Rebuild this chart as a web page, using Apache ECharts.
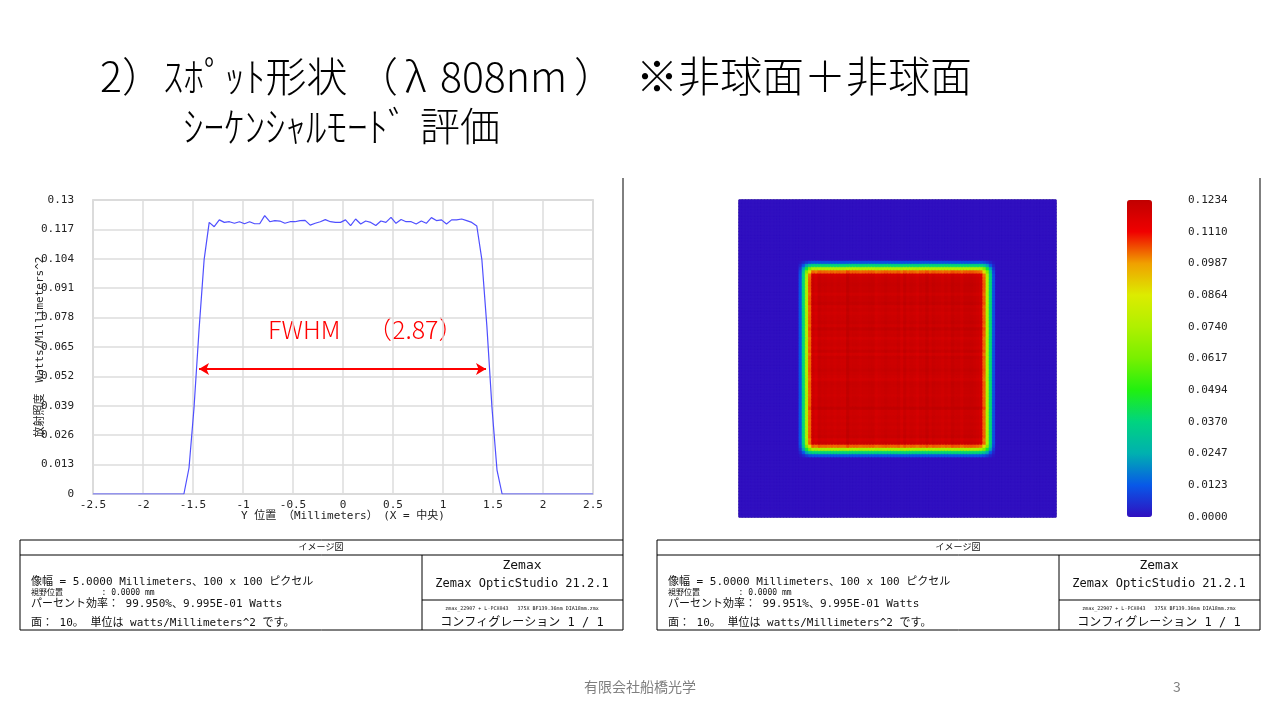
<!DOCTYPE html>
<html><head><meta charset="utf-8">
<script src="https://cdn.jsdelivr.net/npm/echarts@6/dist/echarts.min.js"></script>
<style>html,body{margin:0;padding:0;background:#fff}#c{width:1280px;height:720px}</style>
</head><body><div id="c"></div>
<script>
// ---- data ----
const positionsMm = [
-2.500,-2.449,-2.399,-2.348,-2.298,-2.247,-2.197,-2.146,-2.096,-2.045,
-1.995,-1.944,-1.894,-1.843,-1.793,-1.742,-1.692,-1.641,-1.591,-1.540,
-1.490,-1.439,-1.389,-1.338,-1.288,-1.237,-1.187,-1.136,-1.086,-1.035,
-0.985,-0.934,-0.884,-0.833,-0.783,-0.732,-0.682,-0.631,-0.581,-0.530,
-0.480,-0.429,-0.379,-0.328,-0.278,-0.227,-0.177,-0.126,-0.076,-0.025,
0.025,0.076,0.126,0.177,0.227,0.278,0.328,0.379,0.429,0.480,
0.530,0.581,0.631,0.682,0.732,0.783,0.833,0.884,0.934,0.985,
1.035,1.086,1.136,1.187,1.237,1.288,1.338,1.389,1.439,1.490,
1.540,1.591,1.641,1.692,1.742,1.793,1.843,1.894,1.944,1.995,
2.045,2.096,2.146,2.197,2.247,2.298,2.348,2.399,2.449,2.500];
const irradiance = [
0,0,0,0,0,0,0,0,0,0,
0,0,0,0,0,0,0,0,0,0.0115,
0.038,0.073,0.1035,0.1201,0.1182,0.1212,0.1201,0.1204,0.1197,0.1204,
0.1195,0.1204,0.1195,0.1195,0.1231,0.1204,0.1209,0.1207,0.1197,0.1204,
0.1204,0.1209,0.1210,0.1189,0.1197,0.1204,0.1213,0.1204,0.1201,0.1201,
0.1212,0.1187,0.1216,0.1194,0.1207,0.1201,0.1187,0.1207,0.1201,0.1223,
0.1197,0.1214,0.1204,0.1204,0.1194,0.1207,0.1197,0.1222,0.1209,0.1212,
0.1194,0.1212,0.1212,0.1216,0.1209,0.1201,0.1185,0.1035,0.074,0.038,
0.0106,0,0,0,0,0,0,0,0,0,
0,0,0,0,0,0,0,0,0,0];
const yTickLabels = ['0','0.013','0.026','0.039','0.052','0.065','0.078','0.091','0.104','0.117','0.13'];
const colorbarLabels = ['0.0000','0.0123','0.0247','0.0370','0.0494','0.0617','0.0740','0.0864','0.0987','0.1110','0.1234'];
const plateau = 0.1204;
const colorMax = 0.1234;
const fwhmStart = -1.44, fwhmEnd = 1.43, fwhmLevel = 0.0553;
const palette = ['#3010c0','#0858e8','#00b0b0','#00d480','#20f010','#78f000','#b0f000','#dcec00','#f0a000','#f00000','#c00000'];

// ---- build tables ----
const linePts = positionsMm.map((x, i) => [x, irradiance[i]]);
const idx = positionsMm.map((_, i) => i);
const heat = [];
for (let i = 0; i < irradiance.length; i++)
  for (let j = 0; j < irradiance.length; j++) {
    const v = irradiance[i] * irradiance[j] / plateau;
    const c = echarts.color.lerp(Math.min(v / colorMax, 1), palette);
    heat.push({value:[i, j, v], itemStyle:{borderColor:c, borderWidth:0.7}});
  }

const mono = "'DejaVu Sans Mono','Noto Sans CJK JP',monospace";
const jp = "'Noto Sans CJK JP','Noto Sans',sans-serif";

function tableGraphics(x0, eff) {
  const w = 603, div = x0 + 402;
  const g = [];
  const ls = {stroke:'#000', lineWidth:1};
  g.push({type:'rect', shape:{x:x0, y:540, width:w, height:90}, style:{fill:'none', stroke:'#000', lineWidth:1}});
  g.push({type:'line', shape:{x1:x0, y1:555, x2:x0+w, y2:555}, style:ls});
  g.push({type:'line', shape:{x1:div, y1:555, x2:div, y2:630}, style:ls});
  g.push({type:'line', shape:{x1:div, y1:600, x2:x0+w, y2:600}, style:ls});
  g.push({type:'line', shape:{x1:x0+w, y1:178, x2:x0+w, y2:540}, style:ls});
  const t = (x, y, text, size, align) => ({type:'text', x:x, y:y, style:{text:text, font:size+'px '+mono, fill:'#111', textAlign:align||'left', textVerticalAlign:'middle'}});
  g.push(t(x0+301, 548, 'イメージ図', 9, 'center'));
  g.push(t(x0+11, 582, '像幅 = 5.0000 Millimeters、100 x 100 ピクセル', 11));
  g.push(t(x0+11, 593, '視野位置        : 0.0000 mm', 8));
  g.push(t(x0+11, 604, 'パーセント効率： ' + eff + '、9.995E-01 Watts', 11));
  g.push(t(x0+11, 623, '面： 10。 単位は watts/Millimeters^2 です。', 11));
  g.push(t(div+100, 566, 'Zemax', 13, 'center'));
  g.push(t(div+100, 584, 'Zemax OpticStudio 21.2.1', 12, 'center'));
  g.push(t(div+100, 609, 'zmax_22907 + L-PCX043   375X BF139.36mm DIA18mm.zmx', 5, 'center'));
  g.push(t(div+100, 623, 'コンフィグレーション 1 / 1', 12, 'center'));
  return g;
}

const tf = (x, y, text, size) => ({type:'text', x:x, y:y, style:{text:text, font:'300 '+size+'px '+jp, fill:'#000', textVerticalAlign:'middle'}});
const graphics = [
  tf(100, 76, '2）', 41),
  tf(163, 76, 'ｽﾎﾟｯﾄ形状', 41),
  tf(357, 76, '（', 41),
  tf(405, 76, 'λ', 41),
  tf(440, 76, '808nm', 41),
  tf(574, 76, '）', 41),
  tf(636, 76, '※非球面＋非球面', 42),
  tf(183, 126, 'ｼｰｹﾝｼｬﾙﾓｰﾄﾞ', 41),
  tf(420, 126, '評価', 40),
  {type:'text', x:268, y:329, style:{text:'FWHM', font:'300 25px '+jp, fill:'#ff0000', textVerticalAlign:'middle'}},
  {type:'text', x:367, y:329, style:{text:'（2.87）', font:'300 25px '+jp, fill:'#ff0000', textVerticalAlign:'middle'}},
  {type:'text', x:640, y:687, style:{text:'有限会社船橋光学', font:'14px '+jp, fill:'#7f7f7f', textAlign:'center', textVerticalAlign:'middle'}},
  {type:'text', x:1177, y:687, style:{text:'3', font:'14px '+jp, fill:'#7f7f7f', textAlign:'center', textVerticalAlign:'middle'}}
].concat(tableGraphics(20, '99.950%'), tableGraphics(657, '99.951%'));

const chart = echarts.init(document.getElementById('c'));
chart.setOption({
  animation:false,
  backgroundColor:'#fff',
  grid:[
    {left:93, top:200, width:500, height:294, show:true, borderColor:'#c8c8c8', borderWidth:1.5},
    {left:739, top:200, width:317, height:317, show:true, borderColor:'#555', borderWidth:1, backgroundColor:'#3010c0'},
    {left:1127, top:200, width:25, height:317, show:false}
  ],
  xAxis:[
    {type:'value', gridIndex:0, min:-2.5, max:2.5, interval:0.5,
     axisLine:{show:false}, axisTick:{show:false},
     axisLabel:{fontFamily:mono, fontSize:11, color:'#222', margin:6},
     splitLine:{lineStyle:{color:'#dcdcdc', width:1.5}},
     name:'Y 位置 （Millimeters）　(X = 中央)', nameLocation:'middle', nameGap:17, nameMoveOverlap:false,
     nameTextStyle:{fontFamily:mono, fontSize:11, color:'#222'}},
    {type:'category', gridIndex:1, data:idx, show:false},
    {type:'value', gridIndex:2, show:false}
  ],
  yAxis:[
    {type:'value', gridIndex:0, min:0, max:0.13, interval:0.013,
     axisLine:{show:false}, axisTick:{show:false},
     axisLabel:{fontFamily:mono, fontSize:11, color:'#222', margin:19,
       formatter:v => yTickLabels[Math.round(v/0.013)]},
     splitLine:{lineStyle:{color:'#dcdcdc', width:1.5}},
     name:'放射照度　Watts/Millimeters^2', nameLocation:'middle', nameGap:47, nameRotate:90, nameMoveOverlap:false,
     nameTextStyle:{fontFamily:mono, fontSize:11, color:'#222'}},
    {type:'category', gridIndex:1, data:idx, show:false},
    {type:'value', gridIndex:2, min:0, max:10, interval:1, position:'right',
     axisLine:{show:false}, axisTick:{show:false}, splitLine:{show:false},
     axisLabel:{fontFamily:mono, fontSize:11, color:'#222', margin:36, align:'left',
       formatter:v => colorbarLabels[v]}}
  ],
  visualMap:{
    type:'continuous', min:0, max:colorMax, seriesIndex:1, calculable:false,
    orient:'vertical', left:1127, top:200, itemWidth:25, itemHeight:317, padding:0,
    text:null, showLabel:false, hoverLink:false,
    inRange:{color:palette}
  },
  series:[
    {type:'line', xAxisIndex:0, yAxisIndex:0, data:linePts, showSymbol:false,
     lineStyle:{color:'#4f4fff', width:1.2}, silent:true,
     markLine:{silent:true, symbol:['arrow','arrow'], symbolSize:[9,10],
       lineStyle:{color:'#ff0000', width:2.2, type:'solid'}, label:{show:false},
       data:[[{coord:[fwhmStart, fwhmLevel]},{coord:[fwhmEnd, fwhmLevel]}]]}},
    {type:'heatmap', xAxisIndex:1, yAxisIndex:1, data:heat, silent:true, progressive:0}
  ],
  graphic:graphics
});
</script></body></html>
